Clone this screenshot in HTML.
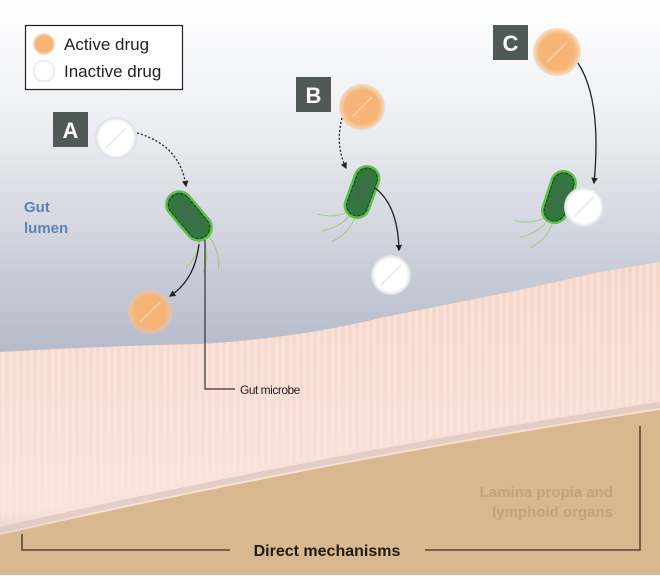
<!DOCTYPE html>
<html><head><meta charset="utf-8"><style>
html,body{margin:0;padding:0;}
body{width:660px;height:575px;overflow:hidden;font-family:"Liberation Sans",sans-serif;}
</style></head><body>
<svg width="660" height="575" viewBox="0 0 660 575" xmlns="http://www.w3.org/2000/svg">
<defs>
<linearGradient id="bg" x1="0" y1="0" x2="0" y2="1">
<stop offset="0" stop-color="#ffffff"/><stop offset="0.2" stop-color="#eef0f4"/><stop offset="0.6" stop-color="#b7bccb"/><stop offset="1" stop-color="#a2aabb"/>
</linearGradient>
<linearGradient id="tis" x1="0" y1="0" x2="0" y2="1">
<stop offset="0" stop-color="#f5d6ca"/><stop offset="0.5" stop-color="#f8ddd3"/><stop offset="0.9" stop-color="#f9e4dc"/><stop offset="1" stop-color="#ecd6cc"/>
</linearGradient>
<pattern id="vil" width="7" height="300" patternUnits="userSpaceOnUse">
<rect x="2" y="0" width="3" height="300" fill="#fbe8e0" opacity="0.6"/>
</pattern>
<radialGradient id="org" cx="0.5" cy="0.5" r="0.5"><stop offset="0.75" stop-color="#f6b576"/><stop offset="1" stop-color="#f3c596" stop-opacity="0.5"/></radialGradient>
<radialGradient id="wht" cx="0.5" cy="0.5" r="0.5"><stop offset="0.8" stop-color="#ffffff"/><stop offset="1" stop-color="#d8dbe0"/></radialGradient>
<radialGradient id="bac" cx="0.5" cy="0.5" r="0.5"><stop offset="0" stop-color="#3e6a4a"/><stop offset="1" stop-color="#2f7a3c"/></radialGradient>
<marker id="ar" viewBox="0 0 10 10" refX="8" refY="5" markerWidth="5" markerHeight="5" orient="auto"><path d="M0,0 L10,5 L0,10 z" fill="#222"/></marker>
<g id="bact">
<path d="M28,4 q15,5 25,22 M28,-2 q18,0 32,14 M26,8 q10,10 12,28" stroke="#9ccc7a" stroke-width="1" fill="none"/>
<rect x="-28" y="-13" width="56" height="26" rx="13" fill="url(#bac)" stroke="#5fbf4a" stroke-width="2.5"/>
<rect x="-26" y="-11" width="52" height="22" rx="11" fill="none" stroke="#1e3a25" stroke-width="1" stroke-dasharray="3 2"/>
</g>
</defs>
<rect width="660" height="575" fill="url(#bg)"/>
<path d="M0,520 L660,400 L660,575 L0,575 Z" fill="#d9b88f"/>
<path d="M0,352 Q100,346 200,344 Q300,338 380,318 L450,304 L520,290 L600,272 L660,262 L660,410 Q330,460 0,535 Z" fill="url(#tis)"/>
<path d="M0,352 Q100,346 200,344 Q300,338 380,318 L450,304 L520,290 L600,272 L660,262 L660,400 Q330,450 0,520 Z" fill="url(#vil)"/>
<path d="M0,530 Q330,455 660,405" stroke="#d7c0b8" stroke-width="6" fill="none" opacity="0.6"/>
<rect x="25.5" y="25.5" width="157" height="64" fill="#fff" stroke="#222" stroke-width="1.2"/>
<circle cx="44" cy="44" r="11" fill="url(#org)"/>
<circle cx="44" cy="71" r="11" fill="url(#wht)"/>
<text x="64" y="50" font-size="17" fill="#222">Active drug</text>
<text x="64" y="77" font-size="17" fill="#222">Inactive drug</text>
<rect x="53" y="112" width="35" height="35" fill="#4f5a57"/>
<text x="70.5" y="138" font-size="22" font-weight="bold" fill="#fff" text-anchor="middle">A</text>
<rect x="296" y="77" width="35" height="35" fill="#4f5a57"/>
<text x="313.5" y="103" font-size="22" font-weight="bold" fill="#fff" text-anchor="middle">B</text>
<rect x="493" y="25" width="35" height="35" fill="#4f5a57"/>
<text x="510.5" y="51" font-size="22" font-weight="bold" fill="#fff" text-anchor="middle">C</text>
<circle cx="116" cy="138" r="21" fill="url(#wht)"/><line x1="106" y1="148" x2="126" y2="128" stroke="#e8e8e8" stroke-width="1.5"/>
<circle cx="150" cy="312" r="22" fill="url(#org)"/><line x1="140" y1="322" x2="160" y2="302" stroke="#fbd3a8" stroke-width="1.5"/>
<circle cx="362" cy="107" r="23" fill="url(#org)"/><line x1="352" y1="117" x2="372" y2="97" stroke="#fbd3a8" stroke-width="1.5"/>
<circle cx="391" cy="275" r="20" fill="url(#wht)"/><line x1="381" y1="285" x2="401" y2="265" stroke="#e8e8e8" stroke-width="1.5"/>
<circle cx="557" cy="52" r="24" fill="url(#org)"/><line x1="547" y1="62" x2="567" y2="42" stroke="#fbd3a8" stroke-width="1.5"/>
<use href="#bact" transform="translate(189,216) rotate(50)"/>
<use href="#bact" transform="translate(362,192) rotate(110) scale(0.95)"/>
<use href="#bact" transform="translate(559,197) rotate(108) scale(0.95)"/>
<circle cx="584" cy="207" r="20" fill="url(#wht)"/><line x1="574" y1="217" x2="594" y2="197" stroke="#e8e8e8" stroke-width="1.5"/>
<path d="M137,133 Q180,145 186,186" stroke="#222" stroke-width="1.3" stroke-dasharray="2 2" fill="none" marker-end="url(#ar)"/>
<path d="M199,244 Q195,280 170,296" stroke="#222" stroke-width="1.3" fill="none" marker-end="url(#ar)"/>
<path d="M342,118 Q335,145 346,168" stroke="#222" stroke-width="1.3" stroke-dasharray="2 2" fill="none" marker-end="url(#ar)"/>
<path d="M375,188 Q398,205 399,250" stroke="#222" stroke-width="1.3" fill="none" marker-end="url(#ar)"/>
<path d="M578,63 Q602,100 594,183" stroke="#222" stroke-width="1.3" fill="none" marker-end="url(#ar)"/>
<path d="M205,240 L205,389 L235,389" stroke="#333" stroke-width="1.2" fill="none"/>
<text x="240" y="394" font-size="12" fill="#222" style="letter-spacing:-0.5px">Gut microbe</text>
<text x="24" y="212" font-size="15" font-weight="bold" fill="#5d82b3">Gut</text>
<text x="24" y="233" font-size="15" font-weight="bold" fill="#5d82b3">lumen</text>
<text x="613" y="497" font-size="15" font-weight="bold" fill="#c4a27f" text-anchor="end">Lamina propia and</text>
<text x="613" y="517" font-size="15" font-weight="bold" fill="#c4a27f" text-anchor="end">lymphoid organs</text>
<path d="M22,534 L22,550 L230,550 M425,550 L640,550 L640,426" stroke="#3a2e22" stroke-width="1.3" fill="none"/>
<text x="327" y="556" font-size="16" font-weight="bold" fill="#1f1a14" text-anchor="middle">Direct mechanisms</text>
</svg>
</body></html>
